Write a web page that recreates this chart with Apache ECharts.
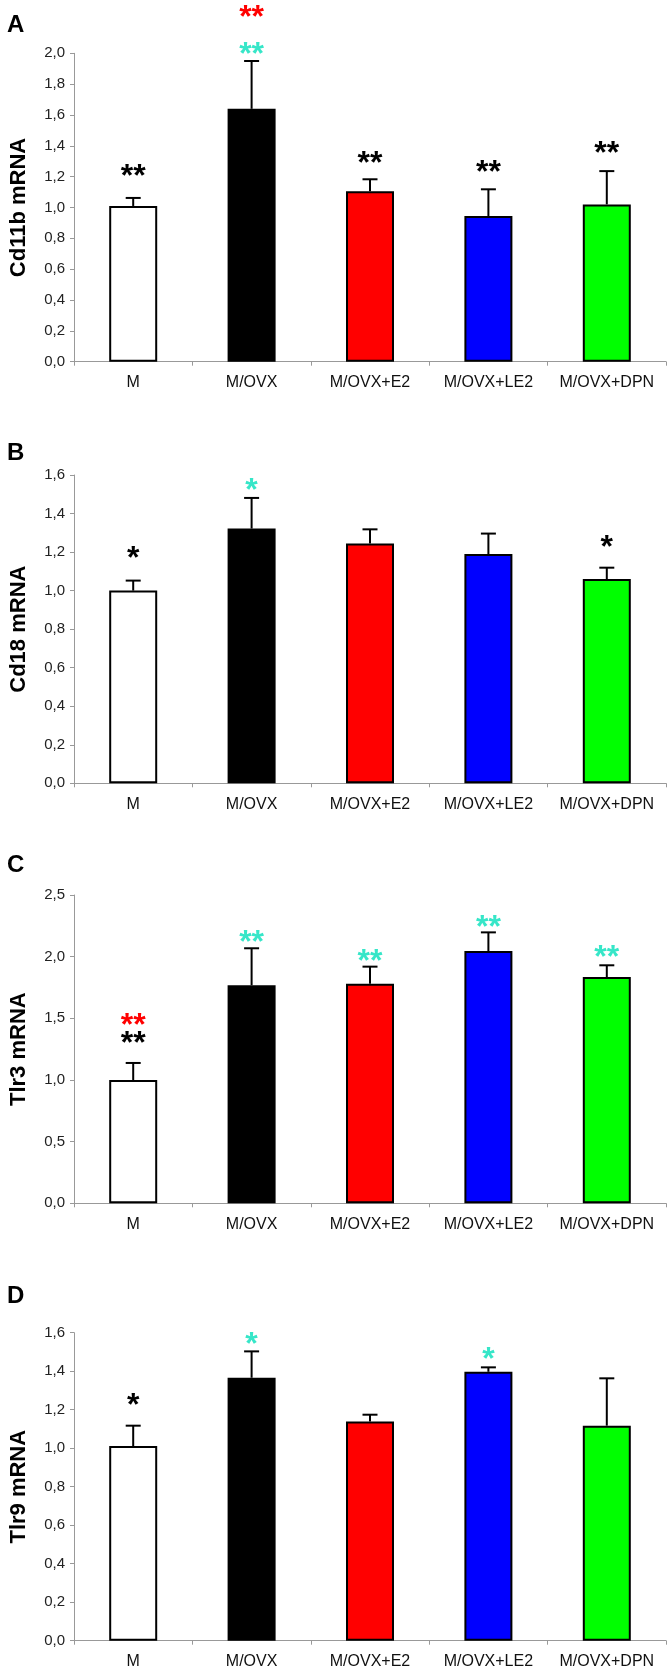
<!DOCTYPE html>
<html lang="en">
<head>
    <meta charset="UTF-8">
    <title>Cd11b, Cd18, Tlr3, Tlr9 mRNA</title>
    <script src="https://cdn.jsdelivr.net/npm/echarts@6/dist/echarts.min.js"></script>
    <style>
        body { margin: 0; background: #fff; }
        #chart { width: 672px; height: 1675px; }
    </style>
</head>
<body>
<div id="chart"></div>
<script>
    // groups
    let categories = ['M', 'M/OVX', 'M/OVX+E2', 'M/OVX+LE2', 'M/OVX+DPN'];

    // A - Cd11b
    let cd11bMean = [1.01, 1.64, 1.105, 0.945, 1.02];
    let cd11bErr = [0.052, 0.31, 0.078, 0.173, 0.216];
    let cd11bStars = [[0, 1.243, '**', 'k'], [1, 2.036, '**', 'c'], [1, 2.27, '**', 'r'], [2, 1.326, '**', 'k'], [3, 1.265, '**', 'k'], [4, 1.394, '**', 'k']];

    // B - Cd18
    let cd18Mean = [1.0, 1.322, 1.245, 1.19, 1.06];
    let cd18Err = [0.052, 0.159, 0.073, 0.106, 0.059];
    let cd18Stars = [[0, 1.197, '*', 'k'], [1, 1.551, '*', 'c'], [4, 1.254, '*', 'k']];

    // C - Tlr3
    let tlr3Mean = [1.0, 1.768, 1.781, 2.046, 1.835];
    let tlr3Err = [0.138, 0.30, 0.138, 0.151, 0.095];
    let tlr3Stars = [[0, 1.495, '**', 'r'], [0, 1.351, '**', 'k'], [1, 2.168, '**', 'c'], [2, 2.014, '**', 'c'], [3, 2.29, '**', 'c'], [4, 2.041, '**', 'c']];

    // D - Tlr9
    let tlr9Mean = [1.011, 1.366, 1.139, 1.397, 1.117];
    let tlr9Err = [0.106, 0.137, 0.035, 0.023, 0.246];
    let tlr9Stars = [[0, 1.255, '*', 'k'], [1, 1.571, '*', 'c'], [3, 1.496, '*', 'c']];

    // y axis ranges
    let yMax = [2.0, 1.6, 2.5, 1.6];
    let yStep = [0.2, 0.2, 0.5, 0.2];

    let barColors = ['#ffffff', '#000000', '#ff0000', '#0000ff', '#00ff00'];
    let starColors = { k: '#000000', r: '#ff0000', c: '#36e6c8' };
    let font = "'Liberation Sans', Arial, Helvetica, sans-serif";

    let panels = [
        { letter: 'A', name: 'Cd11b mRNA', mean: cd11bMean, err: cd11bErr, stars: cd11bStars, top: 53.3, height: 308.4, letterTop: 13 },
        { letter: 'B', name: 'Cd18 mRNA', mean: cd18Mean, err: cd18Err, stars: cd18Stars, top: 475, height: 308.3, letterTop: 441 },
        { letter: 'C', name: 'Tlr3 mRNA', mean: tlr3Mean, err: tlr3Err, stars: tlr3Stars, top: 895, height: 308.3, letterTop: 853 },
        { letter: 'D', name: 'Tlr9 mRNA', mean: tlr9Mean, err: tlr9Err, stars: tlr9Stars, top: 1332.7, height: 308, letterTop: 1284 }
    ];

    let myChart = echarts.init(document.getElementById('chart'));

    let grid = [], xAxis = [], yAxis = [], series = [], title = [];

    panels.forEach(function (p, k) {
        grid.push({ left: 73, right: 6, top: p.top, height: p.height });

        title.push({
            text: p.letter, left: 7, top: p.letterTop, padding: 0,
            textStyle: { fontFamily: font, fontSize: 24, fontWeight: 'bold', color: '#000' }
        });

        xAxis.push({
            type: 'category',
            gridIndex: k,
            data: categories,
            axisLine: { lineStyle: { color: '#999', width: 1 } },
            axisTick: { show: true, length: 4, alignWithLabel: false, lineStyle: { color: '#999' } },
            axisLabel: { interval: 0, hideOverlap: false, fontFamily: font, fontSize: 16, color: '#111', margin: 13 }
        });

        yAxis.push({
            type: 'value',
            gridIndex: k,
            min: 0,
            max: yMax[k],
            interval: yStep[k],
            name: p.name,
            nameLocation: 'middle',
            nameGap: 44,
            nameTextStyle: { fontFamily: font, fontSize: 22, fontWeight: 'bold', color: '#000' },
            splitLine: { show: false },
            axisLine: { show: true, lineStyle: { color: '#999', width: 1 } },
            axisTick: { show: true, length: 4, lineStyle: { color: '#999' } },
            axisLabel: {
                fontFamily: font, fontSize: 15, color: '#222', margin: 9,
                formatter: function (v) { return v.toFixed(1).replace('.', ','); }
            }
        });

        series.push({
            type: 'bar',
            xAxisIndex: k,
            yAxisIndex: k,
            barWidth: 48,
            data: p.mean.map(function (v, i) {
                return { value: v, itemStyle: { color: barColors[i] } };
            }),
            itemStyle: { borderColor: '#000', borderWidth: 2 }
        });

        // error bars (upper only)
        series.push({
            type: 'custom',
            xAxisIndex: k,
            yAxisIndex: k,
            clip: false,
            z: 3,
            data: p.mean.map(function (v, i) { return [i, v, p.err[i]]; }),
            renderItem: function (params, api) {
                let base = api.coord([api.value(0), api.value(1)]);
                let top = api.coord([api.value(0), api.value(1) + api.value(2)]);
                return {
                    type: 'group',
                    children: [
                        { type: 'line', shape: { x1: base[0], y1: base[1], x2: base[0], y2: top[1] }, style: { stroke: '#000', lineWidth: 2 } },
                        { type: 'line', shape: { x1: base[0] - 7.5, y1: top[1], x2: base[0] + 7.5, y2: top[1] }, style: { stroke: '#000', lineWidth: 2 } }
                    ]
                };
            }
        });

        // significance stars
        series.push({
            type: 'custom',
            xAxisIndex: k,
            yAxisIndex: k,
            clip: false,
            z: 4,
            data: p.stars.map(function (s) { return [s[0], s[1]]; }),
            renderItem: function (params, api) {
                let s = p.stars[params.dataIndex];
                let pt = api.coord([api.value(0), api.value(1)]);
                return {
                    type: 'text',
                    x: pt[0],
                    y: pt[1] + 7,
                    style: {
                        text: s[2],
                        fill: starColors[s[3]],
                        font: 'bold 32px ' + font,
                        align: 'center',
                        verticalAlign: 'middle'
                    }
                };
            }
        });
    });

    myChart.setOption({
        animation: false,
        backgroundColor: '#fff',
        title: title,
        grid: grid,
        xAxis: xAxis,
        yAxis: yAxis,
        series: series
    });
</script>
</body>
</html>
